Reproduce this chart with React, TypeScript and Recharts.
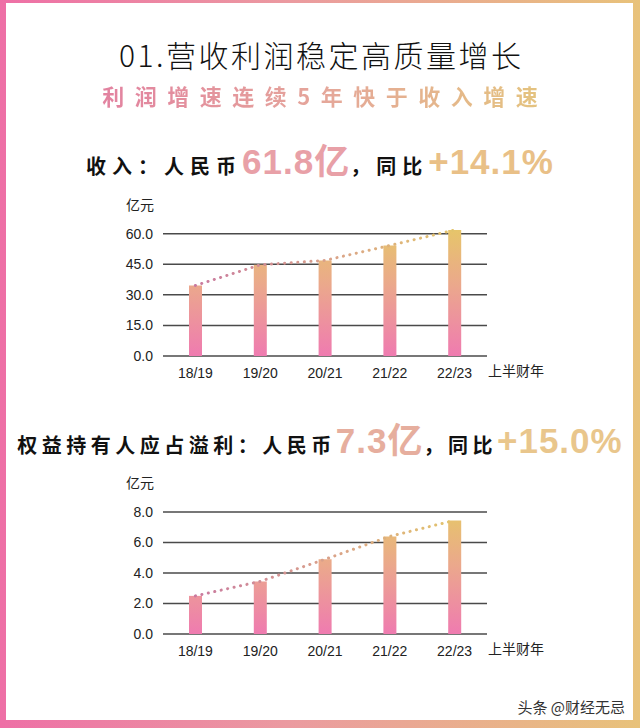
import React from 'react';
import { ComposedChart, Bar, Line, XAxis, YAxis, CartesianGrid, Label } from 'recharts';

const categories = ['18/19', '19/20', '20/21', '21/22', '22/23'];
const revenueValues = [34.6, 44.7, 46.9, 54.2, 61.8];
const profitValues = [2.5, 3.45, 4.9, 6.4, 7.45];
const revenueTicks = [0, 15, 30, 45, 60];
const profitTicks = [0, 2, 4, 6, 8];

const CJK = '"Noto Sans CJK SC", "Noto Sans", sans-serif';
const LAT = '"Liberation Sans", Arial, "Noto Sans CJK SC", sans-serif';

type ChartProps = { id: string; values: number[]; ticks: number[]; top: number; marginTop: number; unitOffset: number };

function MiniChart({ id, values, ticks, top, marginTop, unitOffset }: ChartProps) {
  const data = categories.map((c, i) => ({ cat: c, v: values[i] }));
  const maxTick = ticks[ticks.length - 1];
  return (
    <div style={{ position: 'absolute', left: 0, top }}>
      <ComposedChart width={640} height={200} data={data} margin={{ top: marginTop, right: 153, bottom: 4, left: 103 }}>
        <defs>
          <linearGradient id={id + 'bar'} x1="0" y1={marginTop} x2="0" y2={166} gradientUnits="userSpaceOnUse">
            <stop offset="0" stopColor="#e6c56a" />
            <stop offset="0.45" stopColor="#eba78d" />
            <stop offset="1" stopColor="#ef7bb0" />
          </linearGradient>
          <linearGradient id={id + 'line'} x1="0" y1="0" x2="1" y2="0">
            <stop offset="0" stopColor="#c97aa0" />
            <stop offset="0.5" stopColor="#d9a08a" />
            <stop offset="1" stopColor="#e2c46c" />
          </linearGradient>
        </defs>
        <CartesianGrid vertical={false} horizontalValues={ticks} stroke="#4a4a4a" strokeWidth={1.5} />
        <XAxis
          dataKey="cat"
          axisLine={false}
          tickLine={false}
          height={30}
          tickMargin={6}
          tick={{ fill: '#222', fontSize: 14, fontFamily: LAT }}
        >
          <Label value="上半财年" position="right" offset={1} fill="#222" fontSize={14} fontFamily={CJK} />
        </XAxis>
        <YAxis
          width={60}
          axisLine={false}
          tickLine={false}
          tickMargin={4}
          ticks={ticks}
          domain={[0, (m: number) => Math.max(m, maxTick)]}
          interval={0}
          tickFormatter={(v: number) => v.toFixed(1)}
          tick={{ fill: '#222', fontSize: 14, fontFamily: LAT }}
        >
          <Label value="亿元" position="top" offset={unitOffset} dx={7} fill="#222" fontSize={14} fontFamily={CJK} />
        </YAxis>
        <Bar dataKey="v" barSize={13} fill={`url(#${id}bar)`} isAnimationActive={false} />
        <Line
          dataKey="v"
          type="linear"
          stroke={`url(#${id}line)`}
          strokeWidth={3}
          strokeDasharray="0.1 6.5"
          strokeLinecap="round"
          dot={false}
          activeDot={false}
          isAnimationActive={false}
        />
      </ComposedChart>
    </div>
  );
}

const smallBold: React.CSSProperties = { fontFamily: CJK, fontWeight: 700, fontSize: 20, letterSpacing: 6, color: '#111' };
const bigNum: React.CSSProperties = { fontFamily: LAT, fontWeight: 700, fontSize: 35, letterSpacing: 1 };

export default function App() {
  return (
    <div style={{ position: 'absolute', left: 0, top: 0, width: 640, height: 728, overflow: 'hidden' }}>
      <div style={{ position: 'absolute', inset: 0, background: 'linear-gradient(90deg, #ee6fa6 0%, #eb9aa0 45%, #e8c27a 100%)' }} />
      <div style={{ position: 'absolute', left: 6, top: 3, right: 7, bottom: 8, background: '#fff' }} />

      <div style={{ position: 'absolute', left: 0, right: 0, top: 33, display: 'flex', justifyContent: 'center' }}>
        <span style={{ fontFamily: CJK, fontWeight: 300, fontSize: 30, letterSpacing: 2.5, color: '#111', lineHeight: '42px', marginRight: -2.5 }}>
          01.营收利润稳定高质量增长
        </span>
      </div>
      <div style={{ position: 'absolute', left: 0, right: 0, top: 81, display: 'flex', justifyContent: 'center' }}>
        <span style={{ fontFamily: CJK, fontWeight: 700, fontSize: 22, letterSpacing: 10.5, lineHeight: '28px', marginRight: -10.5, background: 'linear-gradient(90deg, #e282a0, #e5a79a 50%, #e4c47e)', WebkitBackgroundClip: 'text', backgroundClip: 'text', color: 'transparent' }}>
          利润增速连续5年快于收入增速
        </span>
      </div>

      <div style={{ position: 'absolute', left: 0, right: 0, top: 133, height: 48, display: 'flex', justifyContent: 'center', alignItems: 'baseline' }}>
        <span style={smallBold}>收入：人民币</span>
        <span style={{ ...bigNum, color: '#e8a0a7' }}>61.8亿</span>
        <span style={smallBold}>，同比</span>
        <span style={{ ...bigNum, color: '#e9c087' }}>+14.1%</span>
      </div>

      <MiniChart id="rev" values={revenueValues} ticks={revenueTicks} top={190} marginTop={40} unitOffset={20} />

      <div style={{ position: 'absolute', left: 0, right: 0, top: 412, height: 48, display: 'flex', justifyContent: 'center', alignItems: 'baseline' }}>
        <span style={{ ...smallBold, letterSpacing: 4.5 }}>权益持有人应占溢利：人民币</span>
        <span style={{ ...bigNum, color: '#e6ae9e' }}>7.3亿</span>
        <span style={{ ...smallBold, letterSpacing: 4.5 }}>，同比</span>
        <span style={{ ...bigNum, color: '#e9c68c' }}>+15.0%</span>
      </div>

      <MiniChart id="pro" values={profitValues} ticks={profitTicks} top={468} marginTop={44} unitOffset={24} />

      <div style={{ position: 'absolute', right: 15, top: 696, fontFamily: CJK, fontSize: 15, color: '#333', textShadow: '0 0 2px #fff' }}>
        头条 @财经无忌
      </div>
    </div>
  );
}
